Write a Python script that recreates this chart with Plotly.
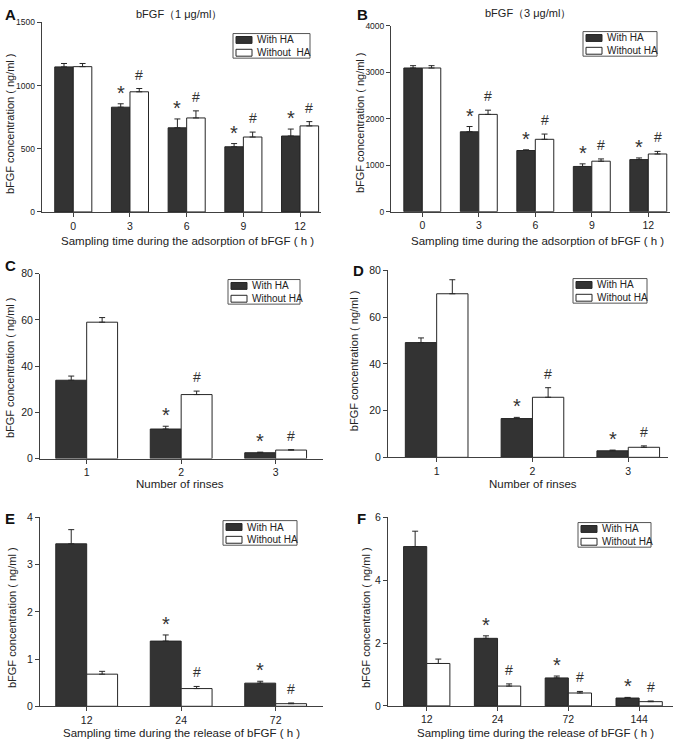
import plotly.graph_objects as go

W, H = 680, 748
FONT = "Liberation Sans, Arial, sans-serif"
DARK = "#333333"
EDGE = "#262626"
AXC = "#404040"
TXT = "#222222"

# ---------------- data ----------------
# Panel A: bFGF (1 ug/ml), adsorption
A_cats = ["0", "3", "6", "9", "12"]
A_with = [1148, 829, 666, 516, 601]
A_with_err = [27, 27, 70, 25, 55]
A_without = [1150, 951, 744, 593, 681]
A_without_err = [25, 26, 56, 39, 34]

# Panel B: bFGF (3 ug/ml), adsorption
B_cats = ["0", "3", "6", "9", "12"]
B_with = [3090, 1718, 1315, 972, 1120]
B_with_err = [50, 113, 15, 56, 35]
B_without = [3090, 2092, 1556, 1085, 1240]
B_without_err = [50, 91, 113, 49, 56]

# Panel C: rinses (1 ug/ml)
C_cats = ["1", "2", "3"]
C_with = [33.9, 12.8, 2.55]
C_with_err = [1.8, 1.2, 0.25]
C_without = [59.0, 27.7, 3.7]
C_without_err = [2.0, 1.5, 0.15]

# Panel D: rinses (3 ug/ml)
D_cats = ["1", "2", "3"]
D_with = [49.1, 16.6, 2.8]
D_with_err = [2.0, 0.5, 0.3]
D_without = [70.0, 25.7, 4.3]
D_without_err = [6.0, 4.1, 0.6]

# Panel E: release (1 ug/ml)
E_cats = ["12", "24", "72"]
E_with = [3.44, 1.38, 0.49]
E_with_err = [0.30, 0.13, 0.04]
E_without = [0.68, 0.375, 0.055]
E_without_err = [0.06, 0.045, 0.015]

# Panel F: release (3 ug/ml)
F_cats = ["12", "24", "72", "144"]
F_with = [5.07, 2.15, 0.89, 0.25]
F_with_err = [0.49, 0.08, 0.06, 0.02]
F_without = [1.35, 0.63, 0.41, 0.135]
F_without_err = [0.14, 0.07, 0.05, 0.02]

# significance marks (first group has none)
A_marks = ["", "*", "*", "*", "*"]
A_hash = ["", "#", "#", "#", "#"]
B_marks = ["", "*", "*", "*", "*"]
B_hash = ["", "#", "#", "#", "#"]
C_marks = ["", "*", "*"]
C_hash = ["", "#", "#"]
D_marks = ["", "*", "*"]
D_hash = ["", "#", "#"]
E_marks = ["", "*", "*"]
E_hash = ["", "#", "#"]
F_marks = ["", "*", "*", "*"]
F_hash = ["", "#", "#", "#"]

Y_TITLE = "bFGF concentration ( ng/ml )"
X_ADS = "Sampling time during the adsorption of bFGF ( h )"
X_RINSE = "Number of rinses"
X_REL = "Sampling time during the release of bFGF ( h )"
WITH_NAME = "With HA"

# ---------------- layout geometry (pixels) ----------------
def px(x):
    return x / W

def py(y):
    return 1 - y / H

panels = [
    dict(letter="A", cats=A_cats, w=A_with, we=A_with_err, wo=A_without, woe=A_without_err,
         m1=A_marks, m2=A_hash, x0=41.7, x1=320.7, yb=209.3, yt=16.7, yr=[0, 1500], dt=500,
         ytf=8.5, xr=[-0.557, 4.364], xt=X_ADS, xtpos=(187, 239), ytpos=(10, 120), lpos=(3, 9),
         leg=(233, 28, 77), without_name="Without\u00a0 HA", title=("bFGF（1 μg/ml）", 179, 8)),
    dict(letter="B", cats=B_cats, w=B_with, we=B_with_err, wo=B_without, woe=B_without_err,
         m1=B_marks, m2=B_hash, x0=391, x1=670, yb=209, yt=20, yr=[0, 4000], dt=1000,
         ytf=8.5, xr=[-0.554, 4.384], xt=X_ADS, xtpos=(537, 239), ytpos=(360, 119), lpos=(355, 9),
         leg=(583, 26, 74), without_name="Without HA", title=("bFGF（3 μg/ml）", 528, 7)),
    dict(letter="C", cats=C_cats, w=C_with, we=C_with_err, wo=C_without, woe=C_without_err,
         m1=C_marks, m2=C_hash, x0=40, x1=323, yb=460, yt=272, yr=[0, 80], dt=20,
         ytf=10.5, xr=[-0.494, 2.501], xt=X_RINSE, xtpos=(180, 486), ytpos=(10, 368), lpos=(3, 264),
         leg=(228, 278, 72), without_name="Without HA", title=None),
    dict(letter="D", cats=D_cats, w=D_with, we=D_with_err, wo=D_without, woe=D_without_err,
         m1=D_marks, m2=D_hash, x0=388, x1=668, yb=458.7, yt=268.7, yr=[0, 80], dt=20,
         ytf=10.5, xr=[-0.508, 2.415], xt=X_RINSE, xtpos=(533, 486), ytpos=(354, 361), lpos=(351, 269),
         leg=(573, 277, 74), without_name="Without HA", title=None),
    dict(letter="E", cats=E_cats, w=E_with, we=E_with_err, wo=E_without, woe=E_without_err,
         m1=E_marks, m2=E_hash, x0=40, x1=323, yb=711.7, yt=519.7, yr=[0, 4], dt=1,
         ytf=10.5, xr=[-0.494, 2.501], xt=X_REL, xtpos=(181, 739), ytpos=(12, 622), lpos=(3, 521),
         leg=(223, 523, 74), without_name="Without HA", title=None),
    dict(letter="F", cats=F_cats, w=F_with, we=F_with_err, wo=F_without, woe=F_without_err,
         m1=F_marks, m2=F_hash, x0=388, x1=673, yb=711.3, yt=519.7, yr=[0, 6], dt=2,
         ytf=10.5, xr=[-0.547, 3.478], xt=X_REL, xtpos=(535, 739), ytpos=(366, 622), lpos=(355, 521),
         leg=(578, 525, 73), without_name="Without HA", title=None),
]

BW = 0.327  # bar width in category units

fig = go.Figure()
annotations = []
shapes = []
layout_extra = {}

for k, p in enumerate(panels):
    sfx = "" if k == 0 else str(k + 1)
    xa, ya = "x" + sfx, "y" + sfx
    n = len(p["cats"])
    xs = list(range(n))

    fig.add_trace(go.Bar(
        x=xs, y=p["w"], width=[BW] * n, offset=[-BW] * n,
        marker=dict(color=DARK, line=dict(color=EDGE, width=1)),
        error_y=dict(type="data", array=p["we"], arrayminus=[0] * n, symmetric=False,
                     color=EDGE, thickness=1, width=3),
        name=WITH_NAME, xaxis=xa, yaxis=ya, showlegend=False,
    ))
    fig.add_trace(go.Bar(
        x=xs, y=p["wo"], width=[BW] * n, offset=[0] * n,
        marker=dict(color="white", line=dict(color=EDGE, width=1)),
        error_y=dict(type="data", array=p["woe"], arrayminus=[0] * n, symmetric=False,
                     color=EDGE, thickness=1, width=3),
        name=p["without_name"], xaxis=xa, yaxis=ya, showlegend=False,
    ))

    layout_extra["xaxis" + sfx] = dict(
        domain=[px(p["x0"]), px(p["x1"])], range=p["xr"], anchor=ya,
        tickmode="array", tickvals=xs, ticktext=p["cats"],
        ticks="outside", ticklen=4, tickwidth=1, tickcolor=AXC,
        showline=True, linecolor=AXC, linewidth=1, showgrid=False, zeroline=False,
        tickfont=dict(family=FONT, size=10.5, color=TXT), fixedrange=True,
    )
    layout_extra["yaxis" + sfx] = dict(
        domain=[py(p["yb"]), py(p["yt"])], range=p["yr"], anchor=xa,
        tickmode="linear", tick0=0, dtick=p["dt"],
        ticks="outside", ticklen=4, tickwidth=1, tickcolor=AXC,
        showline=True, linecolor=AXC, linewidth=1, showgrid=False, zeroline=False,
        tickfont=dict(family=FONT, size=p["ytf"], color=TXT), fixedrange=True,
    )

    # legend box (drawn)
    lx, ly, lw = p["leg"]
    shapes.append(dict(type="rect", xref="paper", yref="paper",
                       x0=px(lx), x1=px(lx + lw), y0=py(ly + 25), y1=py(ly),
                       line=dict(color="#555555", width=1), fillcolor="white", layer="above"))
    for row, (nm, fc) in enumerate([(WITH_NAME, DARK), (p["without_name"], "white")]):
        cy = ly + 6.5 + row * 13
        shapes.append(dict(type="rect", xref="paper", yref="paper",
                           x0=px(lx + 3), x1=px(lx + 19), y0=py(cy + 3.5), y1=py(cy - 3.5),
                           line=dict(color=EDGE, width=1), fillcolor=fc, layer="above"))
        annotations.append(dict(
            x=px(lx + 22), y=py(cy), xref="paper", yref="paper", text=nm,
            showarrow=False, xanchor="left", yanchor="middle",
            font=dict(family=FONT, size=10, color=TXT),
        ))

    # significance marks above error bars
    for i in range(n):
        if p["m1"][i]:
            annotations.append(dict(
                x=i - BW / 2, y=p["w"][i] + p["we"][i], xref=xa, yref=ya,
                text=p["m1"][i], showarrow=False, yanchor="bottom", yshift=-2,
                font=dict(family=FONT, size=20, color="#333333"),
            ))
        if p["m2"][i]:
            annotations.append(dict(
                x=i + BW / 2, y=p["wo"][i] + p["woe"][i], xref=xa, yref=ya,
                text=p["m2"][i], showarrow=False, yanchor="bottom", yshift=4,
                font=dict(family=FONT, size=14, color="#333333"),
            ))

    # panel letter
    annotations.append(dict(
        x=px(p["lpos"][0]), y=py(p["lpos"][1]), xref="paper", yref="paper",
        text="<b>" + p["letter"] + "</b>", showarrow=False, xanchor="left", yanchor="middle",
        font=dict(family=FONT, size=15, color="#111111"),
    ))
    # x-axis title
    annotations.append(dict(
        x=px(p["xtpos"][0]), y=py(p["xtpos"][1]), xref="paper", yref="paper",
        text=p["xt"], showarrow=False, xanchor="center", yanchor="middle",
        font=dict(family=FONT, size=11.5, color=TXT),
    ))
    # y-axis title
    annotations.append(dict(
        x=px(p["ytpos"][0]), y=py(p["ytpos"][1]), xref="paper", yref="paper",
        text=Y_TITLE, showarrow=False, xanchor="center", yanchor="middle", textangle=-90,
        font=dict(family=FONT, size=11, color=TXT),
    ))
    if p["title"]:
        t, tx, ty = p["title"]
        annotations.append(dict(
            x=px(tx), y=py(ty), xref="paper", yref="paper",
            text=t, showarrow=False, xanchor="center", yanchor="middle",
            font=dict(family=FONT, size=11, color=TXT),
        ))

fig.update_layout(
    width=W, height=H, margin=dict(l=0, r=0, t=0, b=0),
    paper_bgcolor="white", plot_bgcolor="white",
    barmode="overlay", showlegend=False,
    annotations=annotations, shapes=shapes,
    **layout_extra,
)

fig.write_html(
    "out.html",
    config={"displayModeBar": False},
    post_script="document.body.style.margin='0';document.body.style.overflow='hidden';",
)
